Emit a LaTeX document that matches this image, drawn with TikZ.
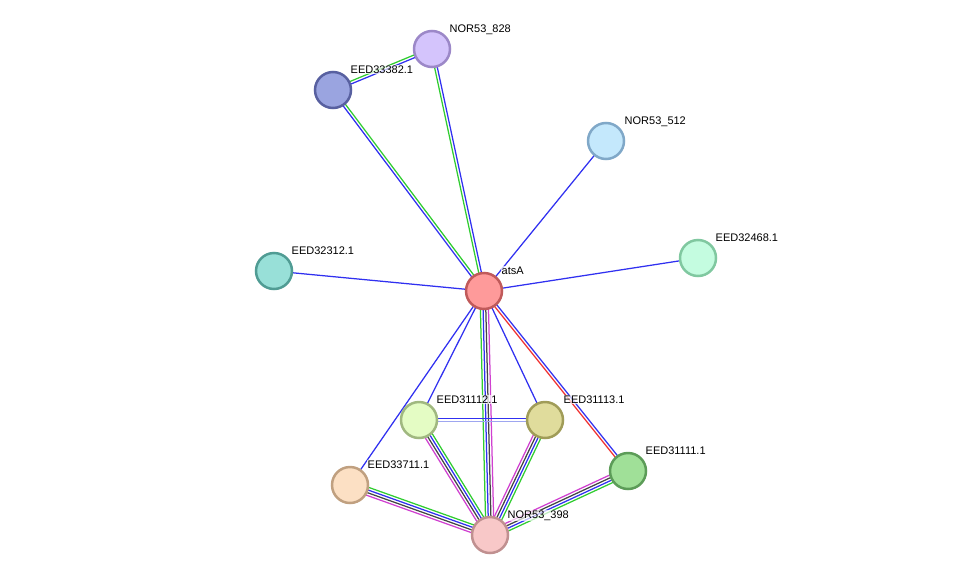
\documentclass[tikz,border=0pt]{standalone}
\usepackage{fontspec}
\setmainfont{Liberation Sans}
\usetikzlibrary{calc,backgrounds}
\definecolor{eblue}{HTML}{3030F0}
\definecolor{egreen}{HTML}{30CC30}
\definecolor{emag}{HTML}{D040D0}
\definecolor{eblack}{HTML}{444444}
\definecolor{ered}{HTML}{F03030}
\definecolor{elblue}{HTML}{9EA6F0}
\definecolor{fA}{HTML}{FE9A9A}\definecolor{dA}{HTML}{C05A5A}
\definecolor{fB}{HTML}{D4C4FC}\definecolor{dB}{HTML}{9C88C8}
\definecolor{fC}{HTML}{9AA4E0}\definecolor{dC}{HTML}{5860A0}
\definecolor{fD}{HTML}{C4E8FC}\definecolor{dD}{HTML}{80A8C8}
\definecolor{fE}{HTML}{98E0D8}\definecolor{dE}{HTML}{509C94}
\definecolor{fF}{HTML}{C4FCE0}\definecolor{dF}{HTML}{80C8A0}
\definecolor{fG}{HTML}{E4FCC4}\definecolor{dG}{HTML}{A0B880}
\definecolor{fH}{HTML}{E0DC9C}\definecolor{dH}{HTML}{A09C58}
\definecolor{fI}{HTML}{FCE0C4}\definecolor{dI}{HTML}{C0A080}
\definecolor{fJ}{HTML}{A0E098}\definecolor{dJ}{HTML}{5C9C58}
\definecolor{fK}{HTML}{F8C8C8}\definecolor{dK}{HTML}{C09090}
\tikzset{
  prot/.style n args={2}{circle, minimum size=36pt, inner sep=0pt, line width=2.5pt, fill=#1, draw=#2},
  plabel/.style={anchor=base west, font=\fontsize{11}{13}\selectfont, inner sep=0.5pt, fill=white, fill opacity=0.7, text opacity=1},
  eline/.style={line width=1.25pt},
}
\newcommand\medge[3]{%
  \foreach \o/\c in {#3} {%
    \draw[eline,\c] ($(#1)!\o pt!90:(#2)$) -- ($(#2)!\o pt!-90:(#1)$);
  }%
}
\begin{document}
\begin{tikzpicture}[x=1pt,y=-1pt]
\useasboundingbox (0,0) rectangle (976,581);
% nodes
\node[prot={fA}{dA}] (atsA) at (484,291) {};
\node[prot={fB}{dB}] (n828) at (432,49) {};
\node[prot={fC}{dC}] (e33382) at (333,90) {};
\node[prot={fD}{dD}] (n512) at (606,141) {};
\node[prot={fE}{dE}] (e32312) at (274,271) {};
\node[prot={fF}{dF}] (e32468) at (698,258) {};
\node[prot={fG}{dG}] (e31112) at (419,420) {};
\node[prot={fH}{dH}] (e31113) at (545,420) {};
\node[prot={fI}{dI}] (e33711) at (350,485) {};
\node[prot={fJ}{dJ}] (e31111) at (628,471) {};
\node[prot={fK}{dK}] (n398) at (490,535) {};
% edges
\begin{scope}[on background layer]
\medge{atsA}{e33382}{1.35/eblue,-1.35/egreen}
\medge{atsA}{n828}{1.35/egreen,-1.35/eblue}
\medge{e33382}{n828}{-1.35/eblue,1.35/egreen}
\medge{atsA}{n512}{0/eblue}
\medge{atsA}{e32312}{0/eblue}
\medge{atsA}{e32468}{0/eblue}
\medge{atsA}{e31112}{0/eblue}
\medge{atsA}{e31113}{0/eblue}
\medge{atsA}{e33711}{0/eblue}
\medge{atsA}{e31111}{1.35/eblue,-1.35/ered}
\medge{atsA}{n398}{-4.05/egreen,-1.35/eblue,1.35/eblack,4.05/emag}
\medge{e31112}{e31113}{1.7/eblue,-1.7/elblue}
\medge{e31112}{n398}{-4.05/emag,-1.35/eblack,1.35/eblue,4.05/egreen}
\medge{e31113}{n398}{-4.05/emag,-1.35/eblack,1.35/eblue,4.05/egreen}
\medge{e33711}{n398}{-4.05/emag,-1.35/eblack,1.35/eblue,4.05/egreen}
\medge{e31111}{n398}{-4.05/emag,-1.35/eblack,1.35/eblue,4.05/egreen}
\end{scope}
% labels
\node[plabel] (latsA) at ($(atsA)+(17,-17)$) {atsA};
\node[plabel] (l828) at ($(n828)+(17,-17)$) {NOR53\_828};
\node[plabel] (l33382) at ($(e33382)+(17,-17)$) {EED33382.1};
\node[plabel] (l512) at ($(n512)+(18,-17)$) {NOR53\_512};
\node[plabel] (l32312) at ($(e32312)+(17,-17)$) {EED32312.1};
\node[plabel] (l32468) at ($(e32468)+(17,-17)$) {EED32468.1};
\node[plabel] (l31112) at ($(e31112)+(17,-17)$) {EED31112.1};
\node[plabel] (l31113) at ($(e31113)+(18,-17)$) {EED31113.1};
\node[plabel] (l33711) at ($(e33711)+(17,-17)$) {EED33711.1};
\node[plabel] (l31111) at ($(e31111)+(17,-17)$) {EED31111.1};
\node[plabel] (l398) at ($(n398)+(17,-17)$) {NOR53\_398};
\end{tikzpicture}
\end{document}
